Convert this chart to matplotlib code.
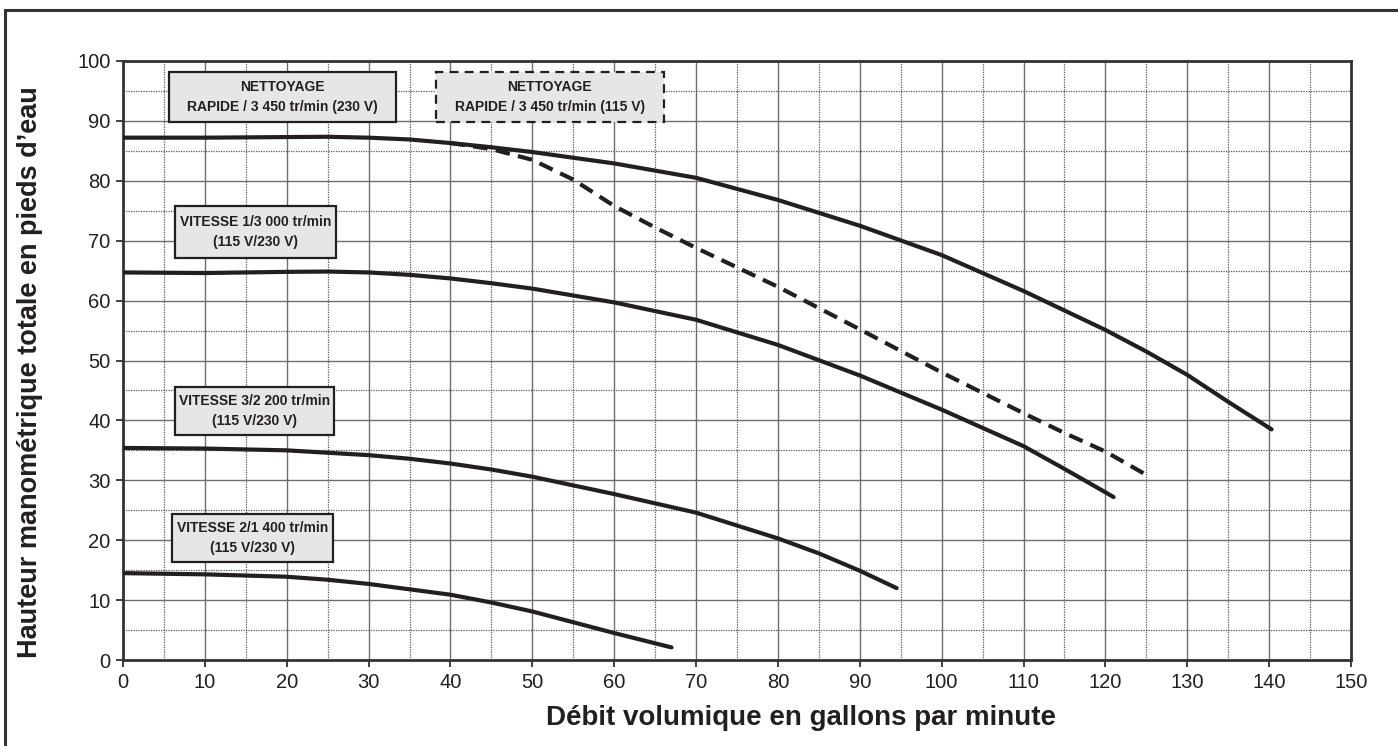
import matplotlib
matplotlib.use("Agg")
import matplotlib.pyplot as plt
from matplotlib.patches import Rectangle
from matplotlib.ticker import MultipleLocator

# ---- data ----
flow_3450_230 = [0, 10, 20, 25, 30, 35, 40, 45, 50, 60, 70, 80, 90, 100, 110, 120, 125, 130, 135, 140.3]
head_3450_230 = [87.2, 87.2, 87.3, 87.35, 87.2, 86.9, 86.3, 85.6, 84.8, 82.9, 80.5, 76.8, 72.5, 67.6, 61.6, 55.1, 51.5, 47.6, 43.1, 38.5]

flow_3450_115 = [40, 45, 50, 55, 60, 65, 70, 80, 90, 100, 110, 115, 120, 125.4]
head_3450_115 = [86.3, 85.3, 83.5, 80.2, 75.8, 72.2, 68.8, 62.3, 55.2, 48.0, 41.2, 37.9, 34.8, 30.6]

flow_3000 = [0, 10, 20, 25, 30, 35, 40, 45, 50, 60, 70, 80, 90, 100, 110, 115, 120, 121]
head_3000 = [64.7, 64.6, 64.8, 64.85, 64.7, 64.3, 63.7, 62.9, 62.0, 59.7, 56.8, 52.6, 47.5, 41.8, 35.7, 31.9, 28.0, 27.2]

flow_2200 = [0, 10, 20, 30, 35, 40, 45, 50, 60, 70, 80, 85, 90, 94.5]
head_2200 = [35.4, 35.3, 35.0, 34.2, 33.6, 32.8, 31.8, 30.6, 27.7, 24.6, 20.3, 17.8, 14.9, 12.0]

flow_1400 = [0, 10, 20, 25, 30, 35, 40, 45, 50, 55, 60, 67]
head_1400 = [14.5, 14.3, 13.9, 13.4, 12.7, 11.8, 10.9, 9.6, 8.1, 6.3, 4.5, 2.1]

x_ticks = list(range(0, 151, 10))
y_ticks = list(range(0, 101, 10))

label_3450_230 = "NETTOYAGE\nRAPIDE / 3 450 tr/min (230 V)"
label_3450_115 = "NETTOYAGE\nRAPIDE / 3 450 tr/min (115 V)"
label_3000 = "VITESSE 1/3 000 tr/min\n(115 V/230 V)"
label_2200 = "VITESSE 3/2 200 tr/min\n(115 V/230 V)"
label_1400 = "VITESSE 2/1 400 tr/min\n(115 V/230 V)"

xlabel = "Débit volumique en gallons par minute"
ylabel = "Hauteur manométrique totale en pieds d\u2019eau"

# ---- style ----
plt.rcParams['font.family'] = ['Liberation Sans', 'DejaVu Sans']
INK = '#231f20'
FILL = '#e6e6e7'

fig = plt.figure(figsize=(13.98, 7.46), dpi=100)
ax = fig.add_axes([123/1398, 1-660/746, (1351-123)/1398, (660-61)/746])

ax.set_xlim(0, 150)
ax.set_ylim(0, 100)
ax.set_xticks(x_ticks)
ax.set_yticks(y_ticks)
ax.xaxis.set_minor_locator(MultipleLocator(5))
ax.yaxis.set_minor_locator(MultipleLocator(5))
ax.tick_params(which='major', direction='out', length=5, width=1.2, colors=INK,
               labelsize=14.5, pad=4)
ax.tick_params(which='minor', length=0)
ax.grid(which='major', color='#6e6e6e', linewidth=1.0, linestyle='-')
ax.grid(which='minor', color='#555555', linewidth=0.9, linestyle=(0, (1, 1)))
ax.set_axisbelow(True)
for s in ax.spines.values():
    s.set_linewidth(2.0)
    s.set_color('#333333')

lw = 3.0
ax.plot(flow_3450_230, head_3450_230, color=INK, lw=lw, solid_capstyle='round', zorder=3)
ax.plot(flow_3450_115, head_3450_115, color=INK, lw=lw, dashes=(3.5, 2.0), zorder=3)
ax.plot(flow_3000, head_3000, color=INK, lw=lw, solid_capstyle='round', zorder=3)
ax.plot(flow_2200, head_2200, color=INK, lw=lw, solid_capstyle='round', zorder=3)
ax.plot(flow_1400, head_1400, color=INK, lw=lw, solid_capstyle='round', zorder=3)

def box(x0, x1, y0, y1, text, fs, dashed=False):
    r = Rectangle((x0, y0), x1 - x0, y1 - y0, facecolor=FILL, edgecolor=INK,
                  linewidth=1.6, zorder=4,
                  linestyle=(0, (4, 2.8)) if dashed else '-')
    ax.add_patch(r)
    ax.text((x0 + x1) / 2, (y0 + y1) / 2, text, ha='center', va='center',
            fontsize=fs, fontweight='bold', color=INK,
            linespacing=1.55, zorder=5)

box(5.6, 33.4, 89.8, 98.2, label_3450_230, 10)
box(38.2, 66.1, 89.8, 98.2, label_3450_115, 10, dashed=True)
box(6.4, 26.0, 67.1, 75.8, label_3000, 10)
box(6.4, 25.8, 37.6, 45.6, label_2200, 10)
box(6.0, 25.6, 16.4, 24.4, label_1400, 10)

ax.set_xlabel(xlabel, fontsize=20, fontweight='bold', color=INK)
ax.set_ylabel(ylabel, fontsize=19.5, fontweight='bold', color=INK)
ax.xaxis.label.set_va('center')
ax.yaxis.label.set_va('center')
ax.xaxis.set_label_coords(0.552, -0.097)
ax.yaxis.set_label_coords(-0.0755, 0.48)

# outer frame (top and left visible)
fig.add_artist(Rectangle((5/1398, -0.1), 1.2, 1 - 10/746 + 0.1, transform=fig.transFigure,
                         fill=False, edgecolor='#333333', linewidth=2.2))

fig.savefig('out.png', dpi=100)
